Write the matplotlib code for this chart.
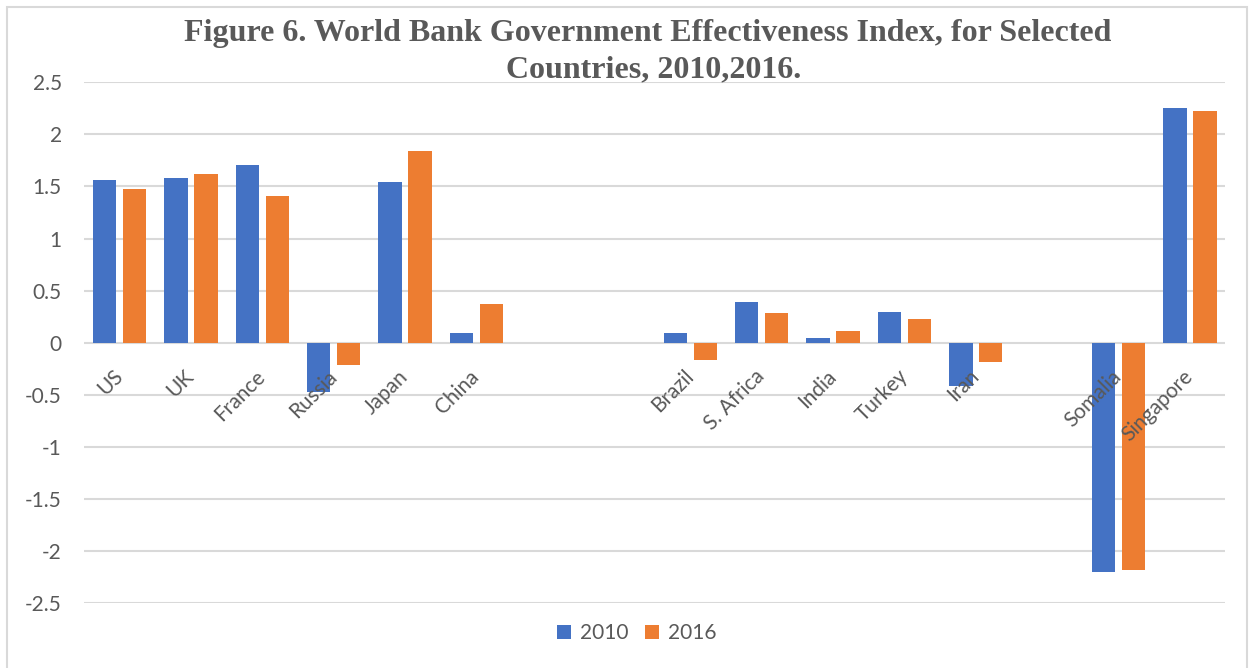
import numpy as np
import matplotlib
matplotlib.use("Agg")
from matplotlib import pyplot as plt
from matplotlib.patches import Rectangle

# Categories (empty strings are the blank slots in the original chart)
countries = ['US', 'UK', 'France', 'Russia', 'Japan', 'China', '', '',
             'Brazil', 'S. Africa', 'India', 'Turkey', 'Iran', '',
             'Somalia', 'Singapore']
values_2010 = [1.56, 1.58, 1.71, -0.47, 1.54, 0.09, np.nan, np.nan,
               0.09, 0.39, 0.04, 0.29, -0.42, np.nan, -2.20, 2.25]
values_2016 = [1.48, 1.62, 1.41, -0.21, 1.84, 0.37, np.nan, np.nan,
               -0.17, 0.28, 0.11, 0.23, -0.19, np.nan, -2.18, 2.22]
y_ticks = [2.5, 2, 1.5, 1, 0.5, 0, -0.5, -1, -1.5, -2, -2.5]

BLUE = '#4472C4'
ORANGE = '#ED7D31'
GRID = '#D9D9D9'
TEXT = '#595959'

plt.rcParams['font.family'] = ['Lato', 'DejaVu Sans']

fig = plt.figure(figsize=(12.53, 6.68), dpi=100)
ax = fig.add_axes([0.067, 0.0973, 0.911, 0.7795])

# gridlines by hand so they sit behind the bars, while tick labels stay on top
for yv in y_ticks:
    ax.axhline(yv, color=GRID, linewidth=1.5, zorder=0)

x = np.arange(len(countries))
width = 0.33
offset = 0.21
ax.bar(x - offset, values_2010, width, color=BLUE, label='2010', zorder=2)
ax.bar(x + offset, values_2016, width, color=ORANGE, label='2016', zorder=2)

ax.set_xlim(-0.5, len(countries) - 0.5)
ax.set_ylim(-2.5, 2.5)
ax.set_yticks(y_ticks)
ax.set_yticklabels([f'{v:g}' for v in y_ticks])
ax.set_axisbelow(False)

for side in ['top', 'right', 'left']:
    ax.spines[side].set_visible(False)
ax.spines['bottom'].set_position(('data', 0))
ax.spines['bottom'].set_visible(False)

ax.set_xticks(x)
ax.set_xticklabels(countries, rotation=45, ha='right', va='center',
                   rotation_mode='anchor')
ax.tick_params(axis='x', length=0, pad=22, labelsize=15, labelcolor=TEXT)
ax.tick_params(axis='y', length=0, pad=16, labelsize=15, labelcolor=TEXT)

fig.text(0.517, 0.950, 'Figure 6. World Bank Government Effectiveness Index, for Selected',
         ha='center', va='center', fontsize=23, fontweight='bold',
         color=TEXT, family='Liberation Serif')
fig.text(0.522, 0.896, 'Countries, 2010,2016.',
         ha='center', va='center', fontsize=23, fontweight='bold',
         color=TEXT, family='Liberation Serif')

fig.legend(loc='center', bbox_to_anchor=(0.508, 0.052), ncol=2, frameon=False,
           fontsize=15, labelcolor=TEXT, handlelength=0.7, handleheight=0.7,
           handletextpad=0.4, columnspacing=0.8)

fig.patches.append(Rectangle((7 / 1253, -0.05), 1240 / 1253, 1.05 - 7 / 668,
                             transform=fig.transFigure, fill=False,
                             edgecolor=GRID, linewidth=1.5))

fig.savefig('out.png', dpi=100)
